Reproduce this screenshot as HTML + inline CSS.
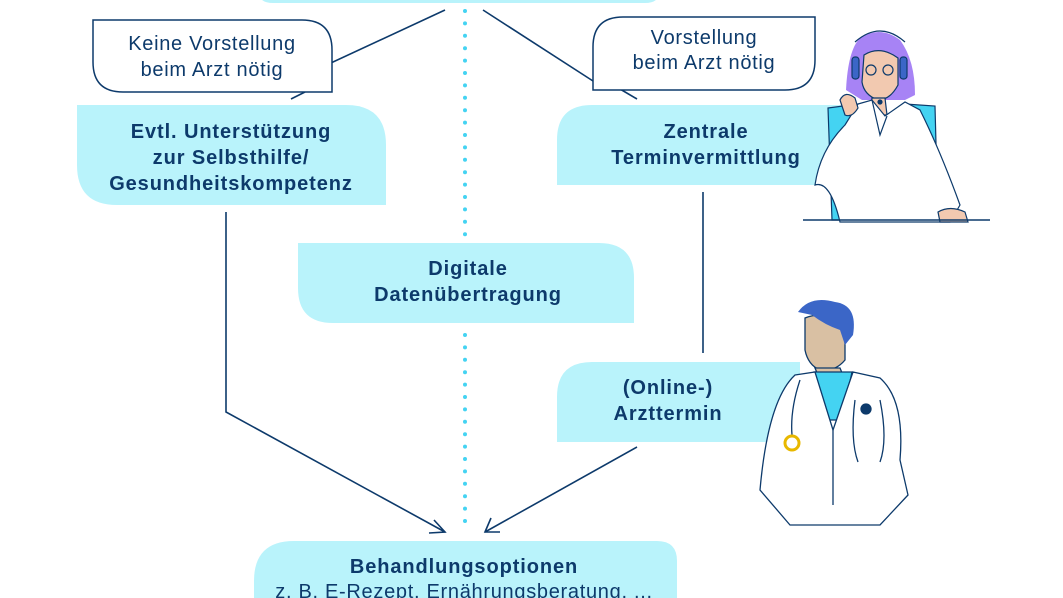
<!DOCTYPE html>
<html><head><meta charset="utf-8"><style>
html,body{margin:0;padding:0;background:#fff;}
svg{display:block;font-family:"Liberation Sans",sans-serif;}
.b{font-weight:bold;font-size:20px;letter-spacing:0.9px;fill:#0d3a6b;text-anchor:middle;}
.n{font-size:20px;letter-spacing:0.7px;fill:#0d3a6b;text-anchor:middle;}
</style></head><body>
<svg width="1063" height="598" viewBox="0 0 1063 598" xmlns="http://www.w3.org/2000/svg">
<path d="M258,-20 H660 V-10 Q660,3 645,3 H273 Q258,3 258,-10 Z" fill="#b9f3fb"/>
<line x1="465" y1="11" x2="465" y2="238" stroke="#44d3f2" stroke-width="4" stroke-linecap="round" stroke-dasharray="0 12.4"/>
<line x1="465" y1="335" x2="465" y2="532" stroke="#44d3f2" stroke-width="4" stroke-linecap="round" stroke-dasharray="0 12.4"/>
<g stroke="#0d3a6b" stroke-width="1.6" fill="none">
<line x1="445" y1="10" x2="305" y2="75"/>
<line x1="305" y1="92" x2="291" y2="99"/>
<line x1="483" y1="10" x2="593" y2="81"/>
<line x1="620" y1="89" x2="637" y2="99"/>
<line x1="703" y1="192" x2="703" y2="353"/>
<polyline points="226,212 226,412 445,532"/>
<polyline points="434,520 445,532 429,533"/>
<line x1="637" y1="447" x2="485" y2="532"/>
<polyline points="491,518 485,532 500,532"/>
</g>
<path d="M93,20 H302 Q332,20 332,50 V92 H123 Q93,92 93,62 Z" fill="#fff" stroke="#0d3a6b" stroke-width="1.5"/>
<text class="n" x="212" y="50">Keine Vorstellung</text>
<text class="n" x="212" y="76">beim Arzt nötig</text>
<path d="M623,17 H815 V60 Q815,90 785,90 H593 V47 Q593,17 623,17 Z" fill="#fff" stroke="#0d3a6b" stroke-width="1.5"/>
<text class="n" x="704" y="44">Vorstellung</text>
<text class="n" x="704" y="69">beim Arzt nötig</text>
<path d="M77,105 H346 Q386,105 386,145 V205 H117 Q77,205 77,165 Z" fill="#b9f3fb"/>
<text class="b" x="231" y="138">Evtl. Unterstützung</text>
<text class="b" x="231" y="164">zur Selbsthilfe/</text>
<text class="b" x="231" y="190">Gesundheitskompetenz</text>
<path d="M592,105 H850 V185 H557 V140 Q557,105 592,105 Z" fill="#b9f3fb"/>
<text class="b" x="706" y="138">Zentrale</text>
<text class="b" x="706" y="164">Terminvermittlung</text>
<path d="M298,243 H599 Q634,243 634,278 V323 H333 Q298,323 298,288 Z" fill="#b9f3fb"/>
<text class="b" x="468" y="275">Digitale</text>
<text class="b" x="468" y="301">Datenübertragung</text>
<path d="M592,362 H800 V442 H557 V397 Q557,362 592,362 Z" fill="#b9f3fb"/>
<text class="b" x="668" y="394">(Online-)</text>
<text class="b" x="668" y="420">Arzttermin</text>
<path d="M294,541 H657 Q677,541 677,561 V610 H254 V581 Q254,541 294,541 Z" fill="#b9f3fb"/>
<text class="b" x="464" y="573">Behandlungsoptionen</text>
<text class="n" x="464" y="598">z. B. E-Rezept, Ernährungsberatung, ...</text>
<g stroke="#0d3a6b" stroke-width="1.2">
<path d="M828,108 L858,104 L865,220 L832,220 Z" fill="#44d3f2"/>
<path d="M905,104 L935,106 L938,220 L915,220 Z" fill="#44d3f2"/>
<path d="M860,38 Q880,25 900,40 Q915,60 915,95 L905,100 L862,100 L846,90 Q848,50 860,38 Z" fill="#a783f5" stroke="none"/>
<path d="M864,55 Q880,45 898,58 L898,85 Q890,100 878,100 Q864,95 862,82 Z" fill="#f2c9b0"/>
<path d="M872,98 L885,98 L887,115 L870,115 Z" fill="#f2c9b0"/>
<path d="M858,104 L872,100 L885,116 L905,102 L920,110 Q940,150 960,205 L950,222 L840,222 Q830,180 815,185 Q820,150 845,125 Z" fill="#fff"/>
<path d="M872,100 L880,135 L887,116" fill="none"/>
<path d="M855,42 Q880,20 905,42" fill="none"/>
<rect x="852" y="57" width="7" height="22" rx="3" fill="#3b66c7"/>
<rect x="900" y="57" width="7" height="22" rx="3" fill="#3b66c7"/>
<circle cx="871" cy="70" r="5" fill="none"/><circle cx="888" cy="70" r="5" fill="none"/>
<path d="M840,100 Q845,90 855,98 L858,108 Q852,118 845,115 Z" fill="#f2c9b0"/>
<path d="M938,212 Q950,205 965,212 L968,222 L940,222 Z" fill="#f2c9b0"/>
<line x1="803" y1="220" x2="990" y2="220" stroke-width="1.5"/>
<circle cx="880" cy="102" r="2" fill="#0d3a6b"/>
</g>
<g stroke="#0d3a6b" stroke-width="1.3">
<path d="M805,318 Q825,310 845,325 L845,360 Q835,372 820,370 Q808,365 805,350 Z" fill="#d9c0a3"/>
<path d="M815,368 L840,368 L845,380 L820,380 Z" fill="#d9c0a3"/>
<path d="M814,372 L852,372 L842,420 L828,420 Z" fill="#44d3f2"/>
<path d="M798,312 Q810,295 835,302 Q858,305 853,335 L845,345 L840,330 Q825,325 812,315 Z" fill="#3b66c7" stroke="none"/>
<path d="M795,375 L815,372 L833,430 L853,372 L880,378 Q905,400 900,460 L908,495 L880,525 L790,525 L760,490 Q768,400 795,375 Z" fill="#fff"/>
<line x1="833" y1="430" x2="833" y2="505"/>
<path d="M855,400 Q850,440 858,462 M880,400 Q888,440 880,462" fill="none"/>
<circle cx="866" cy="409" r="5" fill="#0d3a6b"/>
<path d="M800,380 Q790,410 792,435" fill="none"/>
<circle cx="792" cy="443" r="7" fill="#fff" stroke="#e8b800" stroke-width="3"/>
</g>
</svg>
</body></html>
